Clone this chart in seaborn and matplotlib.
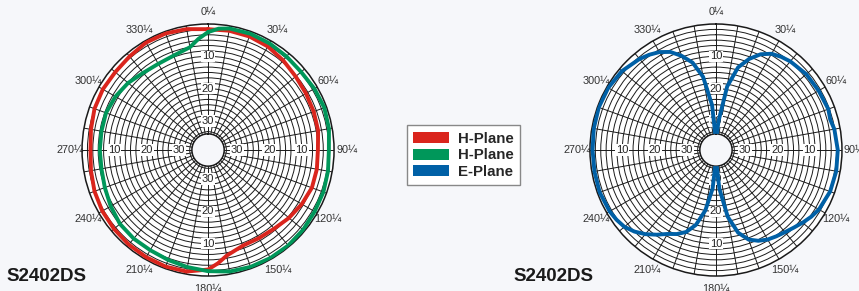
import numpy as np
import pandas as pd
import matplotlib
matplotlib.use("Agg")
import matplotlib.pyplot as plt
from matplotlib.patches import Patch
import seaborn as sns

sns.set_style("white")
plt.rcParams['font.family'] = ['Liberation Sans', 'DejaVu Sans']

# H-Plane (red), degrees / dB
red_deg = [0, 10, 20, 30, 40, 50, 60, 70, 80, 90, 100, 110, 120, 130, 140, 150, 160, 170,
           175, 180, 190, 200, 210, 220, 230, 240, 250, 260, 270, 280, 290, 300, 310, 320,
           330, 340, 350, 360]
red_db = [-1.6, -1.5, -1.6, -2.0, -2.8, -3.6, -4.0, -4.2, -4.4, -5.0, -4.8, -4.8, -5.5, -6.3,
          -7.2, -7.5, -7.5, -5.8, -3.8, -2.0, -0.8, -0.6, -0.7, -0.8, -1.0, -1.2, -1.6, -2.2,
          -2.6, -2.2, -1.6, -1.4, -1.5, -1.2, -0.6, -0.6, -1.0, -1.6]

# H-Plane (green)
green_deg = [0, 5, 10, 20, 30, 40, 50, 60, 70, 80, 90, 100, 110, 120, 130, 140, 150, 160, 170,
             180, 190, 200, 210, 220, 230, 240, 250, 260, 270, 280, 290, 300, 310, 320, 330,
             340, 350, 355, 360]
green_db = [-2.5, -1.3, -0.8, -0.7, -0.9, -1.2, -1.4, -1.0, -0.7, -1.0, -1.6, -1.3, -1.0, -0.9,
            -0.6, -0.4, -0.4, -0.5, -0.8, -1.5, -2.2, -2.8, -3.2, -3.2, -3.4, -4.2, -5.0, -5.5,
            -5.5, -5.5, -5.4, -5.9, -6.7, -7.8, -8.2, -7.9, -6.7, -4.5, -2.5]

# E-Plane (blue)
blue_deg = [0, 5, 10, 15, 20, 25, 30, 35, 40, 50, 60, 70, 75, 80, 90, 100, 110, 120, 125, 130,
            135, 140, 145, 150, 155, 160, 165, 170, 175, 180, 185, 190, 195, 200, 205, 210,
            215, 220, 225, 230, 235, 240, 250, 260, 270, 280, 290, 300, 310, 320, 325, 330,
            335, 340, 345, 350, 355, 360]
blue_db = [-36, -30, -19, -12.5, -9, -6.3, -4.6, -3.8, -3.2, -2.5, -2.3, -2.0, -2.4, -1.8,
           -1.3, -1.2, -1.4, -2.2, -3.0, -4.0, -5.0, -5.8, -6.4, -7.0, -8.0, -9.5, -12.5, -18,
           -27, -36, -27, -20, -15, -12, -10.3, -9.0, -7.0, -5.0, -3.3, -2.0, -1.4, -1.0,
           -0.7, -0.8, -0.8, -0.6, -0.4, -0.5, -1.0, -2.2, -3.0, -4.0, -5.5, -8.0, -11, -16,
           -25, -36]

legend_labels = ["H-Plane", "H-Plane", "E-Plane"]
colors = ["#da251d", "#00975a", "#0060a6"]
model = "S2402DS"
ring_labels = [10, 20, 30]


def setup_polar(ax):
    ax.set_theta_zero_location("N")
    ax.set_theta_direction(-1)
    ax.set_rorigin(-39)
    ax.set_rlim(-34, 0)
    ax.set_facecolor("white")
    ax.set_rticks(-np.arange(10 / 6, 34, 10 / 6))
    ax.set_yticklabels([])
    angles = np.arange(0, 360, 10)
    ax.set_thetagrids(angles, [f"{a}¼" if a % 30 == 0 else "" for a in angles],
                      fontsize=7.8, color="#333333")
    ax.tick_params(axis="x", length=0, pad=2)
    ax.grid(True, color="#1a1a1a", linewidth=0.7)
    for s in ax.spines.values():
        s.set_linewidth(1.1)
        s.set_color("#1a1a1a")
    for a in (0, 90, 180, 270):
        for v in ring_labels:
            ax.text(np.deg2rad(a), -v, str(v), ha="center", va="center", fontsize=8,
                    color="#222222", zorder=3,
                    bbox=dict(facecolor="white", edgecolor="none", pad=0.6))


def draw(ax, deg, db, color):
    df = pd.DataFrame({"theta": np.deg2rad(deg), "db": db})
    sns.lineplot(data=df, x="theta", y="db", sort=False, estimator=None, color=color,
                 linewidth=2.8, ax=ax, zorder=4)
    ax.set_xlabel("")
    ax.set_ylabel("")


fig = plt.figure(figsize=(8.59, 2.91), dpi=100)
fig.patch.set_facecolor("#f6f7fa")

ax1 = fig.add_axes([0.0955, 0.0515, 0.2934, 0.866], projection="polar")
setup_polar(ax1)
draw(ax1, red_deg, red_db, colors[0])
draw(ax1, green_deg, green_db, colors[1])

ax2 = fig.add_axes([0.6868, 0.0515, 0.2934, 0.866], projection="polar")
setup_polar(ax2)
draw(ax2, blue_deg, blue_db, colors[2])

fig.text(0.008, 0.035, model, fontsize=13.5, fontweight="bold", color="#1a1a1a")
fig.text(0.598, 0.035, model, fontsize=13.5, fontweight="bold", color="#1a1a1a")

handles = [Patch(facecolor=c, edgecolor="none") for c in colors]
leg = fig.legend(handles, legend_labels, loc="center", bbox_to_anchor=(0.5395, 0.466),
                 fancybox=False, framealpha=1, edgecolor="#888888", handlelength=2.4,
                 handleheight=0.75, handletextpad=0.55, labelspacing=0.15,
                 prop={"weight": "bold", "size": 10.8}, borderpad=0.45)
leg.get_frame().set_linewidth(1.0)

fig.savefig("out.png", dpi=100, facecolor=fig.get_facecolor())
